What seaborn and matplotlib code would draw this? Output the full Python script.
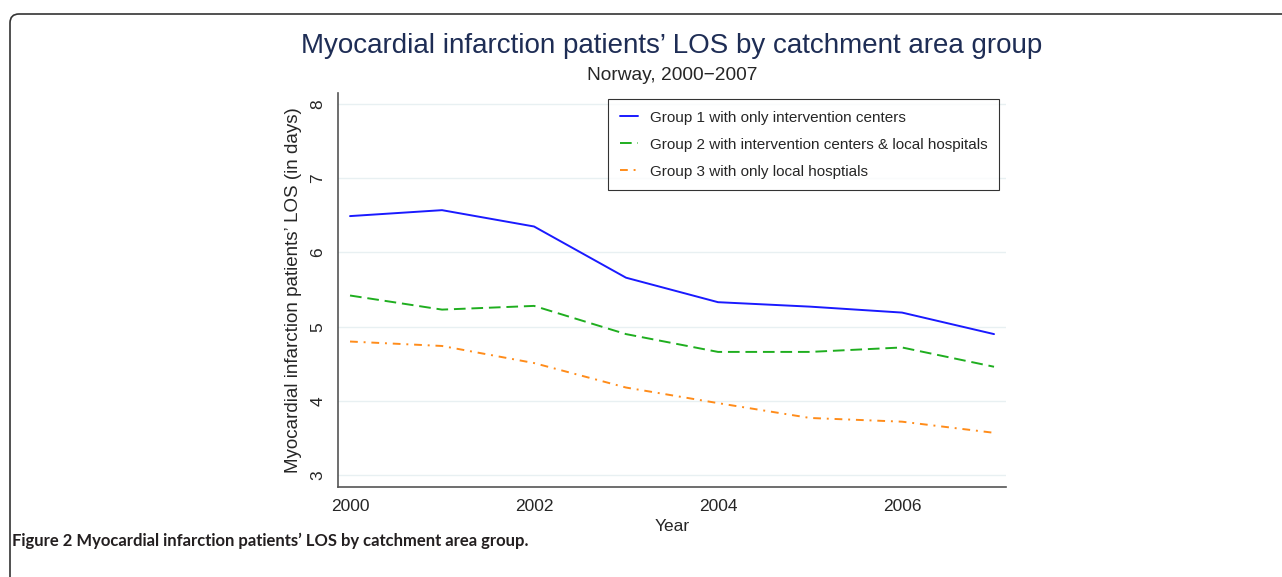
import pandas as pd
import matplotlib.pyplot as plt
import seaborn as sns
from matplotlib.patches import FancyBboxPatch

years = [2000, 2001, 2002, 2003, 2004, 2005, 2006, 2007]
group1 = [6.49, 6.57, 6.35, 5.66, 5.33, 5.27, 5.19, 4.90]
group2 = [5.42, 5.23, 5.28, 4.90, 4.66, 4.66, 4.72, 4.46]
group3 = [4.80, 4.74, 4.51, 4.18, 3.97, 3.77, 3.72, 3.57]
labels = ['Group 1 with only intervention centers',
          'Group 2 with intervention centers & local hospitals',
          'Group 3 with only local hosptials']

df = pd.DataFrame({
    'Year': years * 3,
    'LOS': group1 + group2 + group3,
    'Group': [labels[0]] * 8 + [labels[1]] * 8 + [labels[2]] * 8,
})

sns.set_style('white')
plt.rcParams['font.family'] = ['Liberation Sans', 'DejaVu Sans']

fig = plt.figure(figsize=(12.82, 5.77), dpi=100)
ax = fig.add_axes([0.2637, 0.156, 0.521, 0.683])

palette = {labels[0]: '#1a1aff', labels[1]: '#1fae1f', labels[2]: '#ff8c1a'}
dashes = {labels[0]: '', labels[1]: (6, 3), labels[2]: (4, 3, 1, 3)}
sns.lineplot(data=df, x='Year', y='LOS', hue='Group', style='Group',
             palette=palette, dashes=dashes, linewidth=1.4, ax=ax)

ax.set_xlim(1999.87, 2007.13)
ax.set_ylim(2.84, 8.15)
ax.set_xticks([2000, 2002, 2004, 2006])
ax.set_yticks([3, 4, 5, 6, 7, 8])
ax.set_yticklabels(['3', '4', '5', '6', '7', '8'], rotation=90, va='center')
ax.tick_params(axis='both', direction='out', length=6, width=1, color='#555555',
               labelsize=12.5, pad=3)
ax.grid(axis='y', color='#e8f0f2', linewidth=1)
ax.set_axisbelow(True)
for s in ['top', 'right']:
    ax.spines[s].set_visible(False)
for s in ['left', 'bottom']:
    ax.spines[s].set_color('#555555')
    ax.spines[s].set_linewidth(1.2)

ax.set_xlabel('Year', fontsize=12.5, labelpad=3)
ax.set_ylabel('Myocardial infarction patients\u2019 LOS (in days)', fontsize=13.5, labelpad=6)

leg = ax.legend(loc='upper right', bbox_to_anchor=(0.99, 0.984), borderaxespad=0,
                fontsize=11, frameon=True, fancybox=False, edgecolor='black',
                handlelength=1.2, handletextpad=0.8, borderpad=0.75, labelspacing=0.85,
                title=None)
leg.get_frame().set_linewidth(0.8)

fig.text(0.524, 0.921, 'Myocardial infarction patients\u2019 LOS by catchment area group',
         ha='center', va='center', fontsize=20, color='#1e2d55')
fig.text(0.524, 0.870, 'Norway, 2000\u22122007', ha='center', va='center', fontsize=13.8)

fig.text(0.0095, 0.062, 'Figure 2 Myocardial infarction patients\u2019 LOS by catchment area group.',
         ha='left', va='center', fontsize=12, fontweight='bold', color='#231f20',
         family=['Lato', 'DejaVu Sans'])

frame = FancyBboxPatch((10 / 1282, -0.2), 1.2, 1 - 14 / 577 + 0.2,
                       boxstyle='round,pad=0,rounding_size=0.007',
                       transform=fig.transFigure, fill=False, edgecolor='#333333',
                       linewidth=1.2, mutation_aspect=1282 / 577, clip_on=False)
fig.patches.append(frame)

fig.savefig('out.png', dpi=100)
